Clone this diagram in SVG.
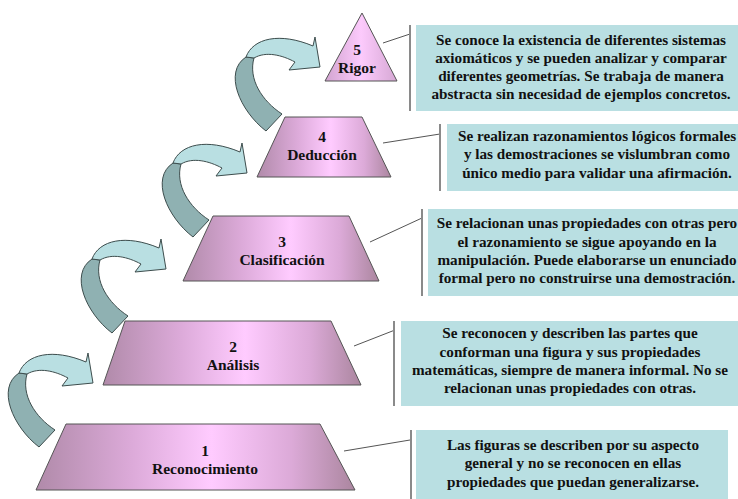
<svg xmlns="http://www.w3.org/2000/svg" xmlns:xlink="http://www.w3.org/1999/xlink" width="738" height="499" viewBox="0 0 738 499">
<style>
.lvl{stroke:#555;stroke-width:1;fill:url(#pinkGrad)}
.lbl{font-family:"Liberation Serif","Times New Roman",serif;font-weight:bold;font-size:15.5px;fill:#111;text-anchor:middle}
.txt{font-family:"Liberation Serif","Times New Roman",serif;font-weight:bold;font-size:15.2px;fill:#111;text-anchor:middle}
.box{fill:#b9dfe2}
.bar{stroke:#8a8a8a;stroke-width:2}
.lead{stroke:#555;stroke-width:1;fill:none}
.adark{fill:#8fb1b2;stroke:#3d4d4d;stroke-width:1}
.alight{fill:#b9dfe2;stroke:#3d4d4d;stroke-width:1}
</style>
<defs>
<linearGradient id="pinkGrad" x1="0" y1="0" x2="1" y2="0">
<stop offset="0" stop-color="#b08aa9"/>
<stop offset="0.3" stop-color="#dcaad9"/>
<stop offset="0.55" stop-color="#ffcbff"/>
<stop offset="0.8" stop-color="#dcaad8"/>
<stop offset="1" stop-color="#ab869f"/>
</linearGradient>
<linearGradient id="triGrad" x1="0" y1="0" x2="1" y2="0">
<stop offset="0" stop-color="#d2a4d0"/>
<stop offset="0.5" stop-color="#fccafc"/>
<stop offset="1" stop-color="#d6a8d4"/>
</linearGradient>
<g id="curvedArrow">
<path class="adark" d="M -54,64 C -80,44 -97,5 -74,-10 L -66,-9 C -72,12 -58,34 -38,47 Z"/>
<path class="alight" d="M -74,-10 C -67,-29 -40,-35 -7,-21 L -5,-30 L 0,0 L -31,3 L -25,-5 C -38,-12 -54,-16 -66,-9 Z"/>
</g>
</defs>
<rect width="738" height="499" fill="#fff"/>

<g id="connectors">
<use xlink:href="#curvedArrow" transform="translate(93,383)"/>
<use xlink:href="#curvedArrow" transform="translate(166,269)"/>
<use xlink:href="#curvedArrow" transform="translate(247,173)"/>
<use xlink:href="#curvedArrow" transform="translate(320,67)"/>
<line class="lead" x1="383" y1="43" x2="410" y2="34"/>
<line class="lead" x1="383" y1="143" x2="440" y2="134"/>
<line class="lead" x1="370" y1="242" x2="422" y2="218"/>
<line class="lead" x1="354" y1="346" x2="395" y2="330"/>
<line class="lead" x1="344" y1="451" x2="410" y2="440"/>
</g>

<g id="level5">
<polygon points="362,13 397,81 325,81" stroke="#555" stroke-width="1" fill="url(#triGrad)"/>
<text class="lbl" x="357" y="55">5</text>
<text class="lbl" x="357" y="73">Rigor</text>
</g>
<g id="level4">
<polygon class="lvl" points="285,117 362,117 391,177 257,177"/>
<text class="lbl" x="322" y="142">4</text>
<text class="lbl" x="322" y="160">Deducción</text>
</g>
<g id="level3">
<polygon class="lvl" points="213,216 349,216 379,281 183,281"/>
<text class="lbl" x="282" y="247">3</text>
<text class="lbl" x="282" y="265">Clasificación</text>
</g>
<g id="level2">
<polygon class="lvl" points="125,321 331,321 361,385 103,385"/>
<text class="lbl" x="233" y="352">2</text>
<text class="lbl" x="233" y="370">Análisis</text>
</g>
<g id="level1">
<polygon class="lvl" points="66,424 320,424 355,490 36,490"/>
<text class="lbl" x="205" y="456">1</text>
<text class="lbl" x="205" y="474">Reconocimiento</text>
</g>

<g id="desc5">
<rect class="box" x="416" y="25" width="322" height="86"/>
<line class="bar" x1="410" y1="25" x2="410" y2="111"/>
<text class="txt" x="581" y="45">Se conoce la existencia de diferentes sistemas</text>
<text class="txt" x="581" y="63">axiomáticos y se pueden analizar y comparar</text>
<text class="txt" x="581" y="81">diferentes geometrías. Se trabaja de manera</text>
<text class="txt" x="581" y="99">abstracta sin necesidad de ejemplos concretos.</text>
</g>
<g id="desc4">
<rect class="box" x="447" y="124" width="291" height="67"/>
<line class="bar" x1="440" y1="124" x2="440" y2="191"/>
<text class="txt" x="597" y="141">Se realizan razonamientos lógicos formales</text>
<text class="txt" x="597" y="159">y las demostraciones se vislumbran como</text>
<text class="txt" x="597" y="178">único medio para validar una afirmación.</text>
</g>
<g id="desc3">
<rect class="box" x="428" y="209" width="310" height="87"/>
<line class="bar" x1="422" y1="209" x2="422" y2="296"/>
<text class="txt" x="587" y="228">Se relacionan unas propiedades con otras pero</text>
<text class="txt" x="587" y="247">el razonamiento se sigue apoyando en la</text>
<text class="txt" x="587" y="265">manipulación. Puede elaborarse un enunciado</text>
<text class="txt" x="587" y="283">formal pero no construirse una demostración.</text>
</g>
<g id="desc2">
<rect class="box" x="401" y="321" width="337" height="85"/>
<line class="bar" x1="394" y1="321" x2="394" y2="406"/>
<text class="txt" x="570" y="338">Se reconocen y describen las partes que</text>
<text class="txt" x="570" y="357">conforman una figura y sus propiedades</text>
<text class="txt" x="570" y="375">matemáticas, siempre de manera informal. No se</text>
<text class="txt" x="570" y="393">relacionan unas propiedades con otras.</text>
</g>
<g id="desc1">
<rect class="box" x="416" y="430" width="312" height="69"/>
<line class="bar" x1="411" y1="430" x2="411" y2="499"/>
<text class="txt" x="573" y="450">Las figuras se describen por su aspecto</text>
<text class="txt" x="573" y="468">general y no se reconocen en ellas</text>
<text class="txt" x="573" y="487">propiedades que puedan generalizarse.</text>
</g>
</svg>
